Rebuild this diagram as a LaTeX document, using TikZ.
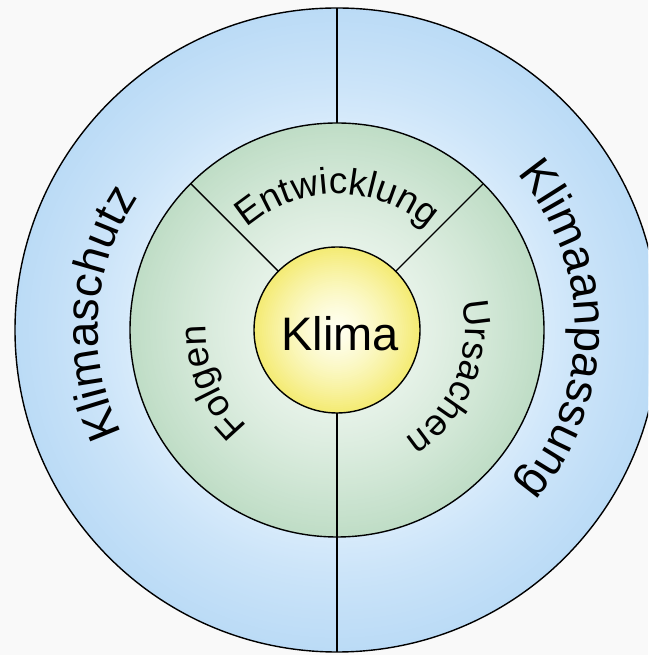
\documentclass[tikz,border=0pt]{standalone}
\usepackage{fontspec}
\setmainfont{Liberation Sans}
\usetikzlibrary{decorations.text}
\definecolor{bgc}{HTML}{F9F9F9}
\definecolor{blueIn}{HTML}{D8EBFB}
\definecolor{blueOut}{HTML}{BBDBF6}
\definecolor{greenIn}{HTML}{E6F2E8}
\definecolor{greenOut}{HTML}{BFDDC6}
\definecolor{yelIn}{HTML}{FFFFF0}
\definecolor{yelOut}{HTML}{F4EB74}
\tikzset{
  ring/.style={circle, inner sep=0pt, outer sep=0pt, draw=black, line width=1.4pt},
  divline/.style={draw=black, line width=1.4pt},
  outerlabel/.style={decorate, decoration={text along path, text align=center,
      text={|\fontsize{46pt}{46pt}\selectfont|#1}}},
  innerlabel/.style={decorate, decoration={text along path, text align=center,
      text={|\fontsize{37pt}{37pt}\selectfont|#1}}}
}
\begin{document}
\begin{tikzpicture}[x=1pt,y=1pt]
  \useasboundingbox (0,0) rectangle (648,655);
  \clip (0,0) rectangle (648,655);
  \fill[bgc] (0,0) rectangle (648,655);
  \coordinate (C) at (337,325);
  % gradient fills (concentric discs)
  \foreach \r in {322,320,...,208} {
    \pgfmathsetmacro{\p}{100*(max(0.001,(\r-207)/115))^0.8}
    \fill[blueOut!\p!blueIn] (C) circle[radius=\r];
  }
  \foreach \r in {207,205,...,85} {
    \pgfmathsetmacro{\p}{100*(max(0.001,(\r-83)/124))^1.1}
    \fill[greenOut!\p!greenIn] (C) circle[radius=\r];
  }
  \foreach \r in {83,81,...,1} {
    \pgfmathsetmacro{\p}{100*(max(0.001,\r/83))^1.4}
    \fill[yelOut!\p!yelIn] (C) circle[radius=\r];
  }
  % circles
  \node[ring, minimum size=644pt] (outer) at (C) {};
  \node[ring, minimum size=414pt] (green) at (C) {};
  \node[ring, minimum size=166pt] (klima) at (C) {};
  \node[font=\fontsize{47pt}{47pt}\selectfont, inner sep=0pt] (klimatext) at (340,321) {Klima};
  % dividing lines
  \draw[divline] (green.north) -- (outer.north);
  \draw[divline] (klima.south) -- (outer.south);
  \draw[divline] (klima.45) -- (green.45);
  \draw[divline] (klima.135) -- (green.135);
  % outer ring labels
  \path[outerlabel=Klimaschutz] ([shift={(246:239)}]C) arc[start angle=246, end angle=106, radius=239];
  \path[outerlabel=Klimaanpassung] ([shift={(70:238)}]C) arc[start angle=70, end angle=-70, radius=238];
  % inner ring labels
  \path[innerlabel=Entwicklung] ([shift={(160:136)}]C) arc[start angle=160, end angle=20, radius=136];
  \path[innerlabel=Folgen] ([shift={(260:131)}]C) arc[start angle=260, end angle=145, radius=131];
  \path[innerlabel=Ursachen] ([shift={(35:128)}]C) arc[start angle=35, end angle=-80, radius=128];
\end{tikzpicture}
\end{document}
